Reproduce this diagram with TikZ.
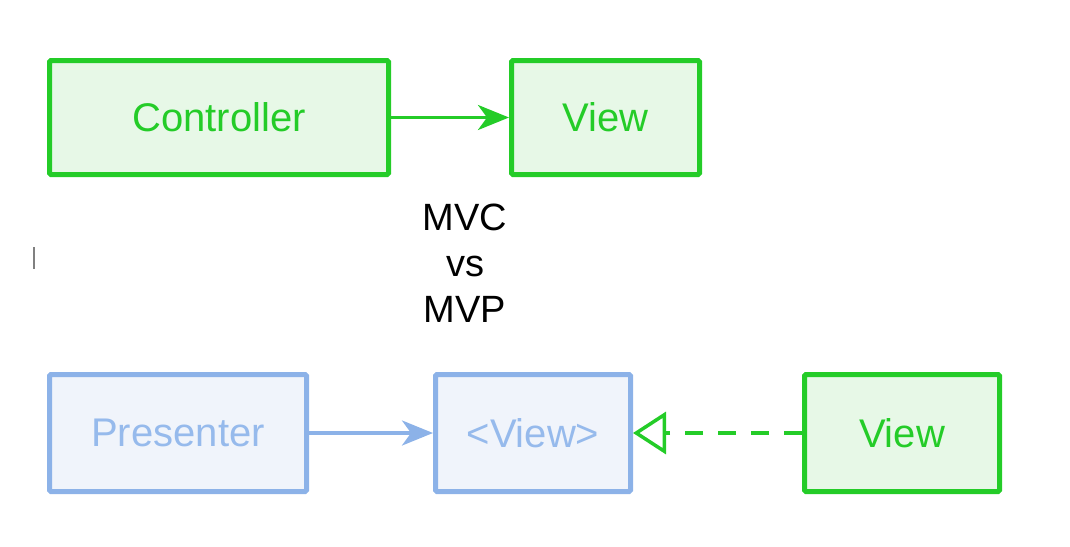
\documentclass[tikz,border=0pt]{standalone}
\usepackage{fontspec}
\setmainfont{Liberation Sans}
\usetikzlibrary{arrows.meta}
\definecolor{mvcgreen}{RGB}{36,204,40}
\definecolor{mvcfill}{RGB}{231,248,231}
\definecolor{mvpblue}{RGB}{140,178,232}
\definecolor{mvpfill}{RGB}{240,244,251}
\definecolor{mvptext}{RGB}{150,186,236}
\begin{document}
\begin{tikzpicture}
[x=1pt,y=-1pt,
  boxdecorate/.style={shape=rectangle,inner sep=0pt,line width=5pt,rounded corners=1.5pt,
    font=\fontsize{40}{46}\selectfont},%
  mvcbox/.style={boxdecorate,draw=mvcgreen,fill=mvcfill,text=mvcgreen},%
  mvpbox/.style={boxdecorate,draw=mvpblue,fill=mvpfill,text=mvptext},%
  linedecorate/.style={line width=3.5pt,-{Stealth[length=31pt,width=25pt,inset=9pt]}},%
  realizedecorate/.style={line width=3.5pt,draw=mvcgreen,dash pattern=on 18pt off 15pt,
    -{Triangle[open,length=33pt,width=42pt,line width=3.5pt]}}]
\useasboundingbox (0,0) rectangle (1070,546);
%% nodes or boxes
\foreach \nodename/\x/\y/\w/\h/\kind/\label in {
  controller/219/117.5/339/114/mvcbox/Controller,
  viewtop/605.5/117.5/188/114/mvcbox/View,
  presenter/178/433/257/117/mvpbox/Presenter,
  iview/533/433/195/117/mvpbox/<View>,
  viewbottom/902/433/195/117/mvcbox/View}
{
  \node (\nodename) at (\x,\y) [\kind,minimum width=\w pt,minimum height=\h pt] {\label};
}
\node (title) at (465,263) [align=center,font=\fontsize{38}{46}\selectfont] {MVC\\vs\\MVP};
%% edges or lines
\draw[linedecorate,mvcgreen] (controller) -- (viewtop);
\draw[linedecorate,mvpblue] (presenter) -- (iview);
\draw[realizedecorate] (viewbottom) -- (iview);
%% stray mark
\draw[line width=1.5pt,color=gray] (34,247) -- (34,269);
\end{tikzpicture}
\end{document}
